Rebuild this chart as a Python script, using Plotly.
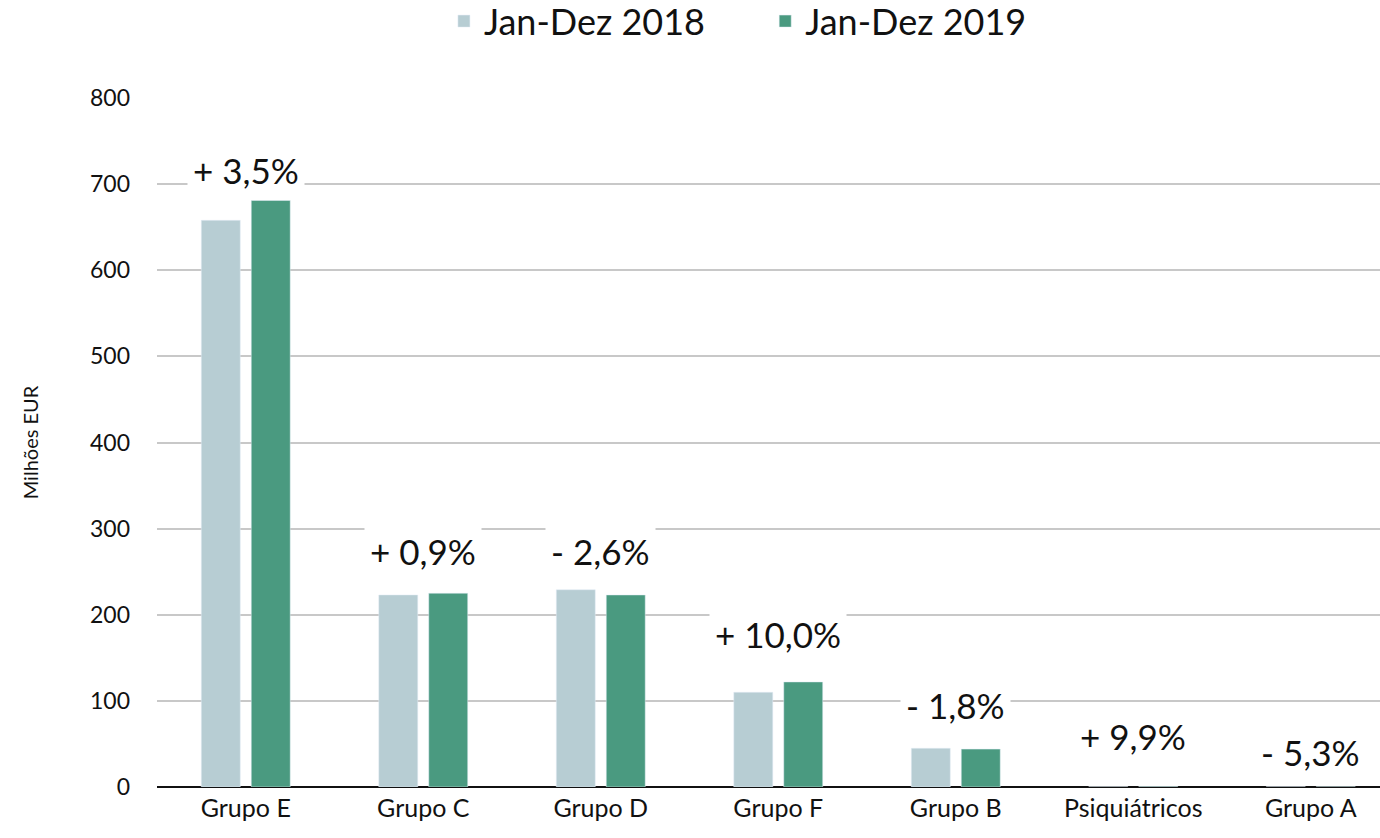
import plotly.graph_objects as go

categories = ["Grupo E", "Grupo C", "Grupo D", "Grupo F", "Grupo B", "Psiquiátricos", "Grupo A"]
values_2018 = [658, 223, 229, 110, 45, 0.4, 0.3]
values_2019 = [681, 225, 223, 122, 44, 0.44, 0.28]
growth_labels = ["+ 3,5%", "+ 0,9%", "- 2,6%", "+ 10,0%", "- 1,8%", "+ 9,9%", "- 5,3%"]
label_y = [716, 274, 274, 178, 95, 59, 41]
y_ticks = [0, 100, 200, 300, 400, 500, 600, 700, 800]

FONT = "Lato, 'Century Gothic', sans-serif"

fig = go.Figure()
fig.add_trace(go.Bar(name="Jan-Dez 2018      ", x=categories, y=values_2018, marker_color="#b7cdd3"))
fig.add_trace(go.Bar(name="Jan-Dez 2019", x=categories, y=values_2019, marker_color="#4a9a80"))

for c, t, yv in zip(categories, growth_labels, label_y):
    fig.add_annotation(x=c, y=yv, text=t, showarrow=False, xref="x", yref="y",
                       font=dict(family=FONT, size=35, color="#111111"),
                       bgcolor="white", borderpad=5)

fig.add_annotation(x=-0.104, y=0.5, xref="paper", yref="paper", text="Milhões EUR",
                   showarrow=False, textangle=-90, xanchor="center",
                   font=dict(family=FONT, size=20, color="#111111"))

fig.update_layout(
    width=1380, height=838,
    margin=dict(l=157, r=0, t=98, b=51, autoexpand=False),
    plot_bgcolor="white", paper_bgcolor="white",
    barmode="group", bargap=0.437, bargroupgap=0.22,
    font=dict(family=FONT, color="#111111"),
    legend=dict(orientation="h", x=0.475, xanchor="center", y=1.155, yanchor="top",
                font=dict(family=FONT, size=36), itemwidth=30, traceorder="normal"),
    xaxis=dict(range=[-0.5, 6.39], showgrid=False, showline=False,
               tickfont=dict(family=FONT, size=25), ticks="", ticklabelstandoff=4),
    yaxis=dict(range=[0, 800], tickvals=y_ticks, showgrid=True, gridcolor="#c8c8c8", gridwidth=2,
               zeroline=True, zerolinecolor="#111111", zerolinewidth=2,
               tickfont=dict(family=FONT, size=23), ticklabelstandoff=26, showline=False),
)

fig.write_html("out.html", config={"displayModeBar": False},
               post_script="document.body.style.margin='0';document.body.style.overflow='hidden';")
